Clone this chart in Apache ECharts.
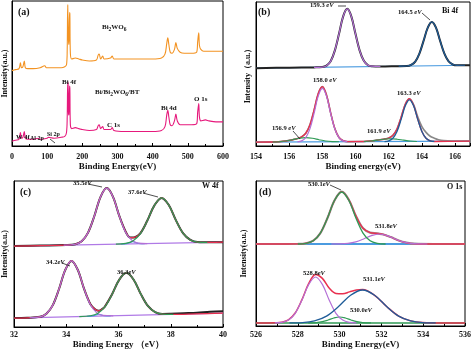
<!DOCTYPE html>
<html><head><meta charset="utf-8">
<script src="https://cdn.jsdelivr.net/npm/echarts@6/dist/echarts.min.js"></script>
<style>html,body{margin:0;padding:0;background:#fff}#c{width:474px;height:350px}</style>
</head><body><div id="c"></div>
<script>
// ---------- Panel (a): XPS survey ----------
const surveyTicks = [0,100,200,300,400,500,600];
const surveyBi2WO6 = [[0,78],[10,79],[20,80],[24,86],[27,81],[31,82],[35,88],[38,81],[45,80],[60,80],[80,81],[93,83],[98,81],[120,81],[140,81],[150,82],[155,84],[157,100],[158.5,146],[159.5,146],[160.5,110],[162,105],[163.5,138],[164.5,137],[166,96],[170,90],[180,91],[190,90],[200,89],[220,88],[240,89],[245,94],[248,95],[252,90],[258,93],[262,90],[280,91],[285,93],[290,90],[320,90],[360,90],[400,90],[425,91],[435,95],[440,106],[443,112],[446,105],[450,97],[455,96],[462,100],[466,107],[470,101],[478,97],[490,96],[510,96],[525,97],[528,108],[531,117],[533,104],[537,100],[545,98],[560,98],[580,98],[600,98]];
const surveyBiBT = [[0,5],[10,6],[20,7],[24,14],[27,8],[31,9],[35,15],[38,8],[45,7],[60,7],[75,8],[80,7],[100,8],[103,9],[120,8],[140,9],[150,10],[155,14],[157,30],[158.5,66],[159.5,65],[160.5,35],[162,32],[163.5,62],[164.5,60],[166,22],[170,18],[180,19],[190,18],[200,17],[220,16],[240,17],[245,21],[248,22],[252,18],[258,20],[262,17],[280,17],[285,19],[290,16],[320,15],[360,15],[400,15],[425,16],[435,20],[440,32],[443,37],[446,30],[450,22],[455,21],[462,26],[466,33],[470,26],[478,22],[490,22],[510,22],[525,23],[528,35],[531,44],[533,30],[537,26],[550,27],[560,26],[580,25],[600,25]];

// ---------- Panel (b): Bi 4f ----------
const bi4fTicks = [154,156,158,160,162,164,166];
const bTopData = [[154,80],[156,80.5],[157.5,80.8],[158.0,81.1],[158.25,82.6],[158.5,87],[158.75,98],[159.0,115],[159.25,133],[159.5,141],[159.75,133],[160.0,115],[160.25,98],[160.5,87.5],[160.75,83],[161.0,82],[161.5,81.7],[162.5,82],[163.1,82.2],[163.35,83.4],[163.6,86.8],[163.85,95],[164.1,108],[164.35,121.5],[164.6,127.5],[164.85,121.6],[165.1,108],[165.35,95.3],[165.6,87.2],[165.85,84],[166.1,82.9],[166.9,83]];
const bTopPeak1 = [[157.5,80.8],[158.0,81.1],[158.25,82.6],[158.5,87],[158.75,98],[159.0,115],[159.25,133],[159.5,141],[159.75,133],[160.0,115],[160.25,98],[160.5,87.5],[160.75,83],[161.0,82],[161.5,81.7]];
const bTopPeak2 = [[162.6,82],[163.1,82.2],[163.35,83.4],[163.6,86.8],[163.85,95],[164.1,108],[164.35,121.5],[164.6,127.5],[164.85,121.6],[165.1,108],[165.35,95.3],[165.6,87.2],[165.85,84],[166.1,82.9],[166.6,83]];
const bTopBase = [[154,80],[166.9,83]];
const bBotData = [[154,4],[155,4.1],[155.8,5.1],[156.2,6.4],[156.5,7.6],[156.75,9.4],[157.0,13.1],[157.25,21.7],[157.5,36.9],[157.75,53.8],[158.0,61],[158.25,52.3],[158.5,34.1],[158.75,17.9],[159.0,8.8],[159.25,5.4],[159.5,4.5],[160.5,4.6],[160.9,5.1],[161.3,6.0],[161.7,7.0],[162.0,8.2],[162.25,10.9],[162.5,17.4],[162.75,29.5],[163.0,42.9],[163.25,48.5],[163.5,42.5],[163.75,30],[164.0,20],[164.25,14],[164.5,10],[164.75,8],[165.0,6.5],[165.3,5.5],[165.8,5],[166.9,5]];
const bBotEnvelope = [[154,4],[155,4.1],[155.8,5.1],[156.2,6.4],[156.5,7.6],[156.75,9.4],[157.0,13.1],[157.25,21.7],[157.5,36.9],[157.75,53.8],[158.0,61],[158.25,52.3],[158.5,34.1],[158.75,17.9],[159.0,8.8],[159.25,5.4],[159.5,4.5],[160.5,4.6],[160.9,5.1],[161.3,6.0],[161.7,7.0],[162.0,8.2],[162.25,10.9],[162.5,17.4],[162.75,29.5],[163.0,42.9],[163.25,48.5],[163.5,41.8],[163.75,27.6],[164.0,15],[164.25,8],[164.5,5.3],[164.75,4.7],[166.9,5]];
const bBotPeakA = [[156.5,4.3],[156.75,5.3],[157.0,8.7],[157.25,17.6],[157.5,33.5],[157.75,51.2],[158.0,59.2],[158.25,51.2],[158.5,33.5],[158.75,17.6],[159.0,8.7],[159.25,5.3],[159.5,4.4]];
const bBotPeakB = [[161.75,4.6],[162.0,5.3],[162.25,8.0],[162.5,15],[162.75,27.4],[163.0,41.3],[163.25,47.5],[163.5,41.3],[163.75,27.4],[164.0,15],[164.25,8.0],[164.5,5.3],[164.75,4.7]];
const bBotSmall1 = [[155.0,4.1],[155.4,4.4],[155.8,5.1],[156.2,6.4],[156.6,7.9],[157.0,8.6],[157.4,7.9],[157.8,6.4],[158.2,5.1],[158.6,4.5],[159.0,4.3]];
const bBotSmall2 = [[160.5,4.6],[160.9,5.1],[161.3,6.0],[161.7,7.0],[162.1,7.5],[162.5,7.0],[162.9,6.0],[163.3,5.1],[163.7,4.6]];
const bBotBase = [[154,4],[166.9,5]];

// ---------- Panel (c): W 4f ----------
const w4fTicks = [32,34,36,38,40];
const cTopEnvelope = [[32,82],[33,82.5],[34,83],[34.35,83.9],[34.59,86.9],[34.83,95.4],[35.07,112],[35.31,131.7],[35.55,140.8],[35.79,131.9],[36.03,112.6],[36.27,96.8],[36.45,90.6],[36.6,90.8],[36.825,94.6],[37.1,107.7],[37.375,123.3],[37.65,130.8],[37.925,123.6],[38.2,108.1],[38.475,94.9],[38.75,88.3],[39.025,86.1],[39.5,85.8],[40,86]];
const cTopPeak1 = [[33.9,83],[34.35,83.9],[34.59,86.9],[34.83,95.4],[35.07,112],[35.31,131.7],[35.55,140.8],[35.79,131.9],[36.03,112.5],[36.27,96.1],[36.51,87.9],[36.75,85.1],[37.1,84.6]];
const cTopPeak2 = [[35.9,84],[36.275,84.7],[36.55,87.2],[36.825,94.1],[37.1,107.6],[37.375,123.3],[37.65,130.8],[37.925,123.6],[38.2,108.1],[38.475,94.9],[38.75,88.3],[39.025,86.1],[39.4,85.7]];
const cTopSmall = [[36.1,84.1],[36.35,84.8],[36.55,86.5],[36.75,84.8],[37.0,84.5]];
const cTopBase = [[32,82],[40,86]];
const cBotData = [[32,9],[32.5,9.3],[33.0,10.3],[33.24,13.4],[33.48,21.9],[33.72,38.3],[33.96,57.7],[34.2,67],[34.44,58],[34.68,38.9],[34.92,23.4],[35.1,18],[35.25,16.4],[35.4,18.6],[35.475,20.5],[35.75,33],[36.025,47.8],[36.3,55],[36.575,48.2],[36.85,33.6],[37.125,21.3],[37.4,15.1],[37.675,13.3],[38,13.5],[38.5,14],[39,14.5],[39.5,15.5],[40,16]];
const cBotEnvelope = [[32,9],[32.5,9.3],[33.0,10.3],[33.24,13.4],[33.48,21.9],[33.72,38.3],[33.96,57.7],[34.2,67],[34.44,58],[34.68,38.9],[34.92,23.4],[35.1,18],[35.25,16.4],[35.4,18.6],[35.475,20.5],[35.75,33],[36.025,47.8],[36.3,55],[36.575,48.2],[36.85,33.6],[37.125,21.3],[37.4,15.1],[37.675,13.1],[38,12.8],[39,13.4],[40,14]];
const cBotPeak1 = [[32.6,9.4],[33.0,10.3],[33.24,13.4],[33.48,21.9],[33.72,38.3],[33.96,57.7],[34.2,67],[34.44,58],[34.68,38.9],[34.92,22.8],[35.16,14.6],[35.4,11.8],[35.8,11.3]];
const cBotPeak2 = [[34.5,10.6],[34.925,11.4],[35.2,13.7],[35.475,20.3],[35.75,32.9],[36.025,47.8],[36.3,55],[36.575,48.2],[36.85,33.6],[37.125,21.3],[37.4,15.1],[37.675,13.1],[38.1,12.8]];
const cBotSmall = [[34.8,10.8],[35.05,11.5],[35.25,13],[35.45,11.5],[35.7,11.3]];
const cBotBase = [[32,9],[40,14]];

// ---------- Panel (d): O 1s ----------
const o1sTicks = [526,528,530,532,534,536];
const dTopEnvelope = [[526,82],[527,82],[528,82.1],[528.4,82.7],[528.74,85.3],[529.08,92.9],[529.42,108],[529.76,125.7],[530.1,134.3],[530.44,126.3],[530.78,110.1],[531.12,97.7],[531.46,93.4],[531.8,92.6],[532.1,91.5],[532.45,88.9],[532.8,85.7],[533.2,83.3],[533.6,82.3],[534.5,82],[536,82]];
const dTopPeak1 = [[528,82],[528.4,82.7],[528.74,85.3],[529.08,92.9],[529.42,108],[529.76,125.7],[530.1,134],[530.44,125.7],[530.78,108],[531.12,92.9],[531.46,85.3],[531.8,82.7],[532.2,82]];
const dTopPeak2 = [[529.6,82],[530.025,82.1],[530.4,82.6],[530.775,84.1],[531.15,87],[531.525,90.4],[531.9,92],[532.275,90.4],[532.65,87],[533.025,84.1],[533.4,82.6],[533.775,82.1],[534.2,82]];
const dTopBase = [[526,82],[536,82]];
const dBotEnvelope = [[526,3],[527,3.2],[527.225,3.7],[527.55,6.1],[527.875,13],[528.2,26.4],[528.525,42.6],[528.85,51.6],[529.175,47.6],[529.5,38],[529.825,32.5],[530.15,32.2],[530.475,34.1],[530.8,35.9],[531.1,36.4],[531.675,30.7],[532.25,19.5],[532.825,9.9],[533.4,5.1],[533.975,3.4],[535,3],[536,3]];
const dBotPeak1 = [[526.9,3.1],[527.225,3.6],[527.55,5.9],[527.875,12.7],[528.2,26],[528.525,41.6],[528.85,49],[529.175,41.6],[529.5,26],[529.825,12.7],[530.15,5.9],[530.475,3.6],[530.8,3.1]];
const dBotPeak2 = [[527.6,3.1],[528.225,3.4],[528.8,5.1],[529.375,9.9],[529.95,19.5],[530.525,30.7],[531.1,36],[531.675,30.7],[532.25,19.5],[532.825,9.9],[533.4,5.1],[533.975,3.4],[534.6,3.1]];
const dBotSmall = [[528.5,3.1],[528.9,3.4],[529.175,4.3],[529.45,6],[529.725,8],[530.0,9],[530.275,8],[530.55,6],[530.825,4.3],[531.1,3.4],[531.5,3.1]];
const dBotBase = [[526,3],[536,3]];

// ---------- chart ----------
const chart = echarts.init(document.getElementById('c'), null, {renderer:'canvas'});
const FONT = '"Liberation Serif","Times New Roman",serif';
const grids = [
  {left:12, top:1, width:211, height:145},
  {left:256, top:2, width:214, height:144},
  {left:14, top:181, width:209, height:147},
  {left:256, top:181, width:214, height:145}
];
const xCfg = [
  {min:0,max:600,interval:100,name:'Binding Energy(eV)',gap:15,margin:7},
  {min:154,max:166.9,interval:2,name:'Binding energy(eV)',gap:15,margin:7},
  {min:32,max:40,interval:2,name:'Binding Energy （eV）',gap:13,margin:4},
  {min:526,max:536,interval:2,name:'Binding Energy(eV)',gap:14,margin:5}
];
const yMax = [150,148,148,145];
const yNames = ['Intensity(a.u.)','Intensity（a.u.）','Intensity(a.u.)','Intensity(a.u.)'];
const yGap = [3,4,5,8];

const xAxis = xCfg.map((c,i)=>({
  type:'value', gridIndex:i, min:c.min, max:c.max, interval:c.interval,
  name:c.name, nameLocation:'middle', nameGap:c.gap,
  nameTextStyle:{fontFamily:FONT, fontWeight:'bold', fontSize:9, color:'#111'},
  axisLine:{show:true, onZero:false, lineStyle:{color:'#000', width:1}},
  axisTick:{show:true, inside:true, length:3, lineStyle:{color:'#000'}},
  minorTick:{show:true, splitNumber:2, length:2, lineStyle:{color:'#000'}},
  axisLabel:{fontFamily:FONT, fontWeight:'bold', fontSize:8, color:'#111', margin:c.margin, showMaxLabel: i!==1},
  splitLine:{show:false}
}));
const yAxis = yMax.map((m,i)=>({
  type:'value', gridIndex:i, min:0, max:m,
  name:yNames[i], nameLocation:'middle', nameGap:yGap[i], nameRotate:90,
  nameTextStyle:{fontFamily:FONT, fontWeight:'bold', fontSize:8, color:'#111'},
  axisLine:{show:true, lineStyle:{color:'#000'}},
  axisTick:{show:false}, axisLabel:{show:false}, splitLine:{show:false}
}));

function L(gi, data, color, width, z){
  return {type:'line', xAxisIndex:gi, yAxisIndex:gi, data:data, showSymbol:false, symbol:'none',
    smooth:0.35, lineStyle:{color:color, width:width||1.2}, z:z||2, silent:true, animation:false};
}
const C = {orange:'#f39322', pink:'#e6197c', purple:'#b46fd6', blue:'#1f5c98', lblue:'#4b9be0',
  red:'#e8304f', green:'#2f9a55', gray:'#555', black:'#222', violet:'#b07ae6'};

const series = [
  L(0, surveyBi2WO6, C.orange, 1.1),
  L(0, surveyBiBT, C.pink, 1.1),
  L(1, bTopBase, C.lblue, 1.2, 1),
  L(1, bTopData, C.black, 2, 2),
  L(1, bTopPeak1, C.purple, 1.2, 3),
  L(1, bTopPeak2, C.blue, 1.2, 3),
  L(1, bBotBase, C.lblue, 1.2, 1),
  L(1, bBotData, '#888', 1.6, 2),
  L(1, bBotEnvelope, C.red, 1.4, 3),
  L(1, bBotSmall1, C.green, 1.1, 4),
  L(1, bBotSmall2, C.green, 1.1, 4),
  L(1, bBotPeakA, C.purple, 1.2, 5),
  L(1, bBotPeakB, C.blue, 1.3, 5),
  L(2, cTopBase, C.violet, 1.2, 1),
  L(2, cTopEnvelope, C.black, 2, 2),
  L(2, cTopEnvelope, C.red, 1.2, 3),
  L(2, cTopSmall, C.lblue, 1.1, 4),
  L(2, cTopPeak1, C.purple, 1.2, 5),
  L(2, cTopPeak2, C.green, 1.2, 5),
  L(2, cBotBase, C.violet, 1.2, 1),
  L(2, cBotData, C.black, 2, 2),
  L(2, cBotEnvelope, C.red, 1.2, 3),
  L(2, cBotSmall, C.lblue, 1.1, 4),
  L(2, cBotPeak1, C.purple, 1.2, 5),
  L(2, cBotPeak2, C.green, 1.2, 5),
  L(3, dTopBase, C.lblue, 2, 1),
  L(3, dTopEnvelope, '#999', 2.2, 2),
  L(3, dTopEnvelope, C.red, 1.4, 3),
  L(3, dTopPeak2, C.purple, 1.2, 4),
  L(3, dTopPeak1, C.green, 1.3, 5),
  L(3, dBotBase, C.green, 1.6, 1),
  L(3, dBotEnvelope, C.red, 1.5, 3),
  L(3, dBotSmall, C.green, 1.2, 4),
  L(3, dBotPeak1, C.purple, 1.2, 5),
  L(3, dBotPeak2, C.blue, 1.3, 5)
];

function T(x, y, text, size){
  const s = size||8;
  return {type:'text', left:x, top:y, z:100, silent:true,
    style:{text:text, fontFamily:FONT, fontWeight:'bold', fontSize:s, fill:'#111',
      rich:{s:{fontFamily:FONT, fontWeight:'bold', fontSize:5.5, fill:'#111', padding:[5,0,0,0]},
            n:{fontFamily:FONT, fontWeight:'bold', fontSize:s, fill:'#111'},
            i:{fontFamily:FONT, fontWeight:'bold', fontStyle:'italic', fontSize:s, fill:'#111'}}}};
}
function A(x1,y1,x2,y2){
  return {type:'line', z:100, silent:true, shape:{x1:x1,y1:y1,x2:x2,y2:y2}, style:{stroke:'#222', lineWidth:0.8}};
}
const graphic = [
  T(18, 7, '(a)', 10),
  T(102, 24, '{n|Bi}{s|2}{n|WO}{s|6}', 7),
  T(62, 79, 'Bi 4f', 7),
  T(95, 89, '{n|Bi/Bi}{s|2}{n|WO}{s|6}{n|/BT}', 7),
  T(161, 105, 'Bi 4d', 7),
  T(194, 96, 'O 1s', 7),
  T(107, 122, 'C 1s', 7),
  T(16, 134, 'W 4f', 6.5),
  T(30, 135, 'Al 2p', 6),
  T(47, 131, 'Si 2p', 6),
  A(50,139,55,143),
  T(258, 7, '(b)', 10),
  T(442, 7, 'Bi 4f', 8),
  T(310, 2, '{n|159.3 }{i|eV}', 6.5),
  A(338,6,346,6),
  T(398, 9, '{n|164.5 }{i|eV}', 6.5),
  A(422,13,430,20),
  T(313, 77, '{n|158.0 }{i|eV}', 6.5),
  T(397, 90, '{n|163.3 }{i|eV}', 6.5),
  T(272, 125, '{n|156.9 }{i|eV}', 6.5),
  A(293,131,300,139),
  T(367, 128, '{n|161.9 }{i|eV}', 6.5),
  T(20, 187, '(c)', 10),
  T(202, 182, 'W 4f', 8),
  T(73, 180, '{n|35.5}{i|eV}', 6.5),
  A(88,184,102,187),
  T(128, 189, '{n|37.6}{i|eV}', 6.5),
  A(143,193,158,197),
  T(46, 259, '{n|34.2}{i|eV}', 6.5),
  A(62,263,70,266),
  T(117, 269, '{n|36.3}{i|eV}', 6.5),
  T(259, 187, '(d)', 10),
  T(447, 183, 'O 1s', 8),
  T(308, 181, '{n|530.1}{i|eV}', 6.5),
  A(330,185,341,190),
  T(375, 223, '{n|531.8}{i|eV}', 6.5),
  T(303, 270, '{n|528.8}{i|eV}', 6.5),
  T(363, 276, '{n|531.1}{i|eV}', 6.5),
  T(350, 307, '{n|530.0}{i|eV}', 6.5)
];

chart.setOption({
  animation:false, backgroundColor:'#fff',
  grid: grids.map(g=>Object.assign({show:true, borderColor:'#000', borderWidth:1, backgroundColor:'transparent'}, g)),
  xAxis, yAxis, series, graphic
});
</script></body></html>
